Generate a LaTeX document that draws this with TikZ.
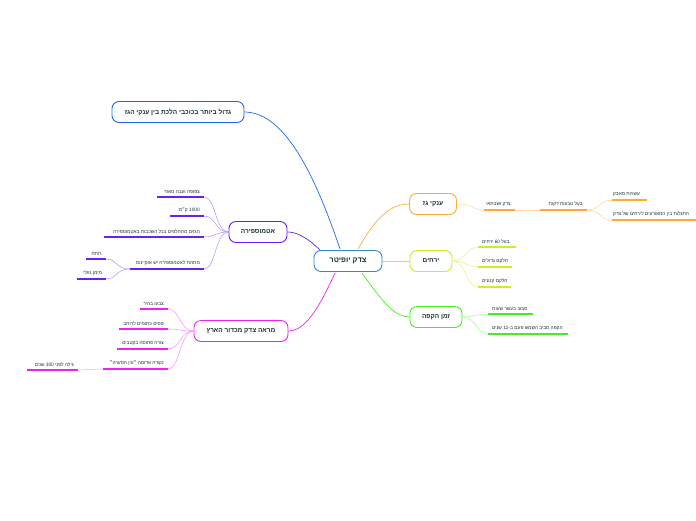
\documentclass[tikz,border=0pt]{standalone}
\usepackage{fontspec}
\setmainfont{Liberation Sans}
\newfontfamily\hebfont[Script=Hebrew]{Liberation Sans}
\TeXXeTstate=1
\newcommand{\he}[1]{{\hebfont\beginR #1\endR}}
\definecolor{cblue}{HTML}{2266EE}
\definecolor{cpur}{HTML}{6622EE}
\definecolor{cmag}{HTML}{EE22EE}
\definecolor{corg}{HTML}{FFAA33}
\definecolor{cyel}{HTML}{CCEE22}
\definecolor{cgrn}{HTML}{44EE22}
\definecolor{ccen}{HTML}{3388CC}
\definecolor{txt}{HTML}{1A3333}
\tikzset{
 topic/.style={draw, rounded corners=7pt, line width=0.9pt, fill=white, minimum height=21pt, inner xsep=8pt, font=\bfseries\fontsize{6.5}{7}\selectfont, text=txt},
 sub/.style={font=\fontsize{4.8}{5.5}\selectfont, text=txt, inner sep=1pt},
 bar/.style={line width=1.3pt},
 conn/.style={line width=0.7pt},
 lconn/.style={line width=0.5pt}
}
\begin{document}
\begin{tikzpicture}[x=1pt,y=-1pt]
\useasboundingbox (0,0) rectangle (696,520);
% main connectors
\coordinate (cc) at (348,261);
\draw[conn,cblue] (340,249) .. controls (310,160) and (280,112) .. (244,112);
\draw[conn,cpur] (322,252) .. controls (305,235) and (295,232) .. (287,232);
\draw[conn,cmag] (335,273) .. controls (318,310) and (305,331) .. (288,331);
\draw[conn,corg] (358,249) .. controls (380,210) and (395,204) .. (410,204);
\draw[conn,cyel] (382,261) -- (410,261);
\draw[conn,cgrn] (362,273) .. controls (385,305) and (395,317) .. (410,317);
% center
\node[topic, draw=ccen, minimum width=68pt, font=\bfseries\fontsize{7.5}{8}\selectfont] (c) at (348,261) {\he{צדק יופיטר}};
% top
\node[topic, draw=cblue, minimum width=132pt] (t) at (178,112) {\he{גדול ביותר בכוכבי הלכת בין ענקי הגז}};
% atmosphere
\node[topic, draw=cpur, minimum width=58pt] (a) at (258,232) {\he{אטמוספירה}};
\foreach \y/\xa/\t [count=\i] in {197/157/{צפופה ועבה מאוד},216/170/{\beginL 1000\endL{} ק״מ},237/104/{הגזים מתחלפים בכל השכבות באטמוספירה},269/130/{מתחת לאטמוספירה יש אוקיינוס}}{
 \draw[lconn,cpur!50] (a.west) .. controls (215,232) and (216,\y) .. (204,\y);
 \draw[bar,cpur] (\xa,\y) -- (204,\y);
 \node[sub,anchor=south east] (a\i) at (201,\y-2) {\he{\t}};
}
\foreach \y/\xa/\t [count=\i] in {259/86/{רותח},279/77/{מימן נוזלי}}{
 \draw[lconn,cpur!50] (130,269) .. controls (115,269) and (118,\y) .. (106,\y);
 \draw[bar,cpur] (\xa,\y) -- (106,\y);
 \node[sub,anchor=south east] (aa\i) at (103,\y-2) {\he{\t}};
}
% view
\node[topic, draw=cmag, minimum width=94pt] (m) at (241,331) {\he{מראה צדק מכדור הארץ}};
\foreach \y/\xa/\t [count=\i] in {309/140/{צבעו בהיר},329/119/{פסים כתומים לרוחב},349/117/{צורה פחוסה בקטבים},369/103/{נקודה אדומה ״עין הסערה״}}{
 \draw[lconn,cmag!50] (m.west) .. controls (180,331) and (180,\y) .. (168,\y);
 \draw[bar,cmag] (\xa,\y) -- (168,\y);
 \node[sub,anchor=south east] (m\i) at (165,\y-2) {\he{\t}};
}
\draw[lconn,cmag!40] (78,370) -- (103,369);
\draw[bar,cmag] (27,370) -- (78,370);
\node[sub,anchor=south east] (mm) at (75,368) {\he{גילה לפני \beginL 300\endL{} שנים}};
% gas giants
\node[topic, draw=corg, minimum width=47pt] (g) at (433,204) {\he{ענקי גז}};
\draw[lconn,corg!50] (g.east) .. controls (475,204) and (472,210) .. (484,210);
\draw[bar,corg] (484,210) -- (515,210);
\node[sub,anchor=south east] (g1) at (512,208) {\he{צדק ושבתאי}};
\draw[lconn,corg!40] (515,210) -- (540,210);
\draw[bar,corg] (540,210) -- (587,210);
\node[sub,anchor=south east] (g2) at (584,208) {\he{בעל טבעות דקות}};
\foreach \y/\xa/\t [count=\i] in {200/647/{עשויות מאבק},220/696/{התגלות בין המאורעים לירחים של צדק}}{
 \draw[lconn,corg!50] (587,210) .. controls (600,210) and (600,\y) .. (612,\y);
 \draw[bar,corg] (612,\y) -- (\xa,\y);
 \node[sub,anchor=south west] (gg\i) at (612,\y-2) {\he{\t}};
}
% moons
\node[topic, draw=cyel, minimum width=42pt] (y) at (431,261) {\he{ירחים}};
\foreach \y/\xa/\t [count=\i] in {247/516/{בעל \beginL 60\endL{} ירחים},267/512/{חלקם גדולים},287/511/{חלקם קטנים}}{
 \draw[lconn,cyel!60] (y.east) .. controls (466,261) and (466,\y) .. (478,\y);
 \draw[bar,cyel] (478,\y) -- (\xa,\y);
 \node[sub,anchor=south west] (y\i) at (481,\y-2) {\he{\t}};
}
% period
\node[topic, draw=cgrn, minimum width=52pt] (z) at (436,317) {\he{זמן הקפה}};
\foreach \y/\xa/\t [count=\i] in {314/533/{סבוב בעשר שעות},334/568/{הקפה סביב השמש פעם ב-\beginL 12\endL{} שנים}}{
 \draw[lconn,cgrn!50] (z.east) .. controls (476,317) and (476,\y) .. (488,\y);
 \draw[bar,cgrn] (488,\y) -- (\xa,\y);
 \node[sub,anchor=south west] (z\i) at (491,\y-2) {\he{\t}};
}
\end{tikzpicture}
\end{document}
